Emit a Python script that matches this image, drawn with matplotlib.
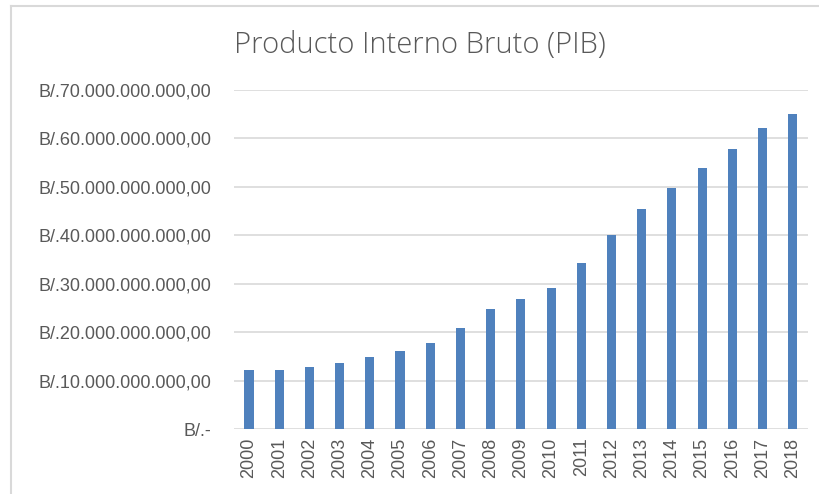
import matplotlib
matplotlib.use("Agg")
import matplotlib.pyplot as plt
from matplotlib.ticker import FuncFormatter
from matplotlib.lines import Line2D

years = ["2000", "2001", "2002", "2003", "2004", "2005", "2006", "2007", "2008", "2009",
         "2010", "2011", "2012", "2013", "2014", "2015", "2016", "2017", "2018"]
pib = [12.2e9, 12.2e9, 12.9e9, 13.6e9, 15.0e9, 16.1e9, 17.8e9, 21.0e9, 24.8e9, 26.9e9,
       29.1e9, 34.4e9, 40.1e9, 45.4e9, 49.7e9, 53.9e9, 57.8e9, 62.1e9, 65.0e9]
title = "Producto Interno Bruto (PIB)"

W, H = 819, 494
fig = plt.figure(figsize=(W / 100, H / 100), dpi=100)
fig.patch.set_facecolor("white")

left, right, top, bottom = 233.9, 807.8, 90.0, 429.3
ax = fig.add_axes([left / W, 1 - bottom / H, (right - left) / W, (bottom - top) / H])

x = list(range(len(years)))
ax.bar(x, pib, width=0.3, color="#4F81BD", zorder=3)
ax.set_xlim(-0.5, len(years) - 0.5)
ax.set_ylim(0, 70e9)
ax.set_yticks([i * 10e9 for i in range(8)])

def fmt(v, pos):
    n = int(round(v))
    if n == 0:
        return "B/.-"
    s = f"{n:,}".replace(",", ".")
    return f"B/.{s},00"

ax.yaxis.set_major_formatter(FuncFormatter(fmt))
ax.set_xticks(x)
ax.set_xticklabels(years, rotation=90)

for sp in ax.spines.values():
    sp.set_visible(False)
ax.grid(axis="y", color="#D9D9D9", linewidth=1.2, zorder=0)
ax.tick_params(axis="both", length=0, labelsize=13, labelcolor="#595959")
ax.tick_params(axis="y", pad=16)
ax.tick_params(axis="x", pad=6)
for lab in ax.get_xticklabels() + ax.get_yticklabels():
    lab.set_fontfamily("Liberation Sans")

fig.text(420 / W, 1 - 45 / H, title, ha="center", va="center",
         fontsize=21, color="#595959", family="Open Sans", fontweight="light")

# outer chart frame (left and top edges visible)
fig.add_artist(Line2D([11 / W, 11 / W], [0, 1 - 6 / H], transform=fig.transFigure,
                      color="#D9D9D9", linewidth=1.5))
fig.add_artist(Line2D([11 / W, 1], [1 - 6 / H, 1 - 6 / H], transform=fig.transFigure,
                      color="#D9D9D9", linewidth=1.5))

fig.savefig("out.png", dpi=100)
